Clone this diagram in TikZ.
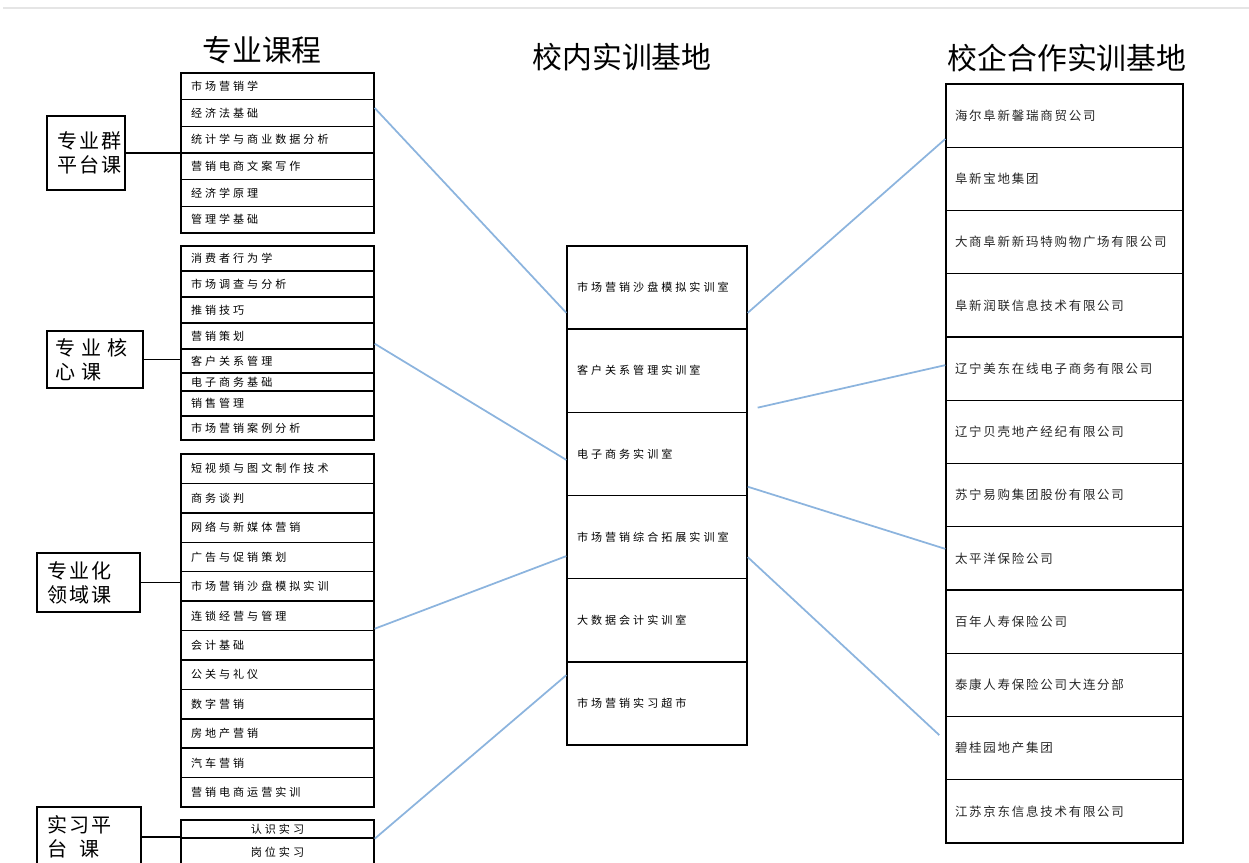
\documentclass[tikz,border=0pt]{standalone}
\usepackage{fontspec}
\setmainfont{Noto Sans CJK SC}
\newfontfamily\rowfont[LetterSpace=27]{Noto Sans CJK SC}
\newfontfamily\firmfont[LetterSpace=14]{Noto Sans CJK SC}
\newfontfamily\grpfont[LetterSpace=10]{Noto Sans CJK SC}
\definecolor{linkblue}{RGB}{140,180,222}

\tikzset{
  course/.style = {draw, line width=0.8pt, inner xsep=0.2cm, inner ysep=0pt, text width=3.46cm, align=left, font=\rowfont\fontsize{6.3}{7}\selectfont},
  practice/.style = {course, align=center},
  lab/.style = {draw, line width=0.8pt, inner xsep=0.2cm, inner ysep=0pt, text width=3.2cm, minimum height=1.663cm, align=left, font=\rowfont\fontsize{6.3}{7}\selectfont},
  firm/.style = {draw, line width=0.8pt, inner xsep=0.18cm, inner ysep=0pt, text width=4.38cm, minimum height=1.265cm, align=left, text=black!85, font=\firmfont\fontsize{7.1}{8}\selectfont},
  grp/.style = {draw, line width=0.8pt, inner xsep=0.2cm, align=left, font=\grpfont\fontsize{11.4}{13.7}\selectfont},
  title/.style = {font=\fontsize{17}{20}\selectfont},
  link/.style = {linkblue, line width=1pt}
}

\begin{document}
\begin{tikzpicture}[x=0.02cm, y=-0.02cm]
    \useasboundingbox (0,0) rectangle (1249,863);
    \clip (0,0) rectangle (1249,863);
    \draw [black!10, line width=1.5pt] (3,8) -- (1249,8);

    \node (tc) [title] at (262,50) {专业课程};
    \node (tl) [title] at (622,57) {校内实训基地};
    \node (tf) [title] at (1067,58) {校企合作实训基地};

    \foreach \t [count=\i] in {市场营销学, 经济法基础, 统计学与商业数据分析, 营销电商文案写作, 经济学原理, 管理学基础}
        \node (p\i) [course, minimum height=0.533cm] at (277.5, {73+26.67*(\i-0.5)}) {\t};
    \foreach \a/\b/\t [count=\i] in {246/271/消费者行为学, 271/297/市场调查与分析, 297/323/推销技巧, 323/349/营销策划, 349/373/客户关系管理, 373/391/电子商务基础, 391/416/销售管理, 416/440/市场营销案例分析}
        \node (c\i) [course, minimum height={(\b-\a)*0.02cm}] at (277.5, {(\a+\b)/2}) {\t};
    \foreach \t [count=\i] in {短视频与图文制作技术, 商务谈判, 网络与新媒体营销, 广告与促销策划, 市场营销沙盘模拟实训, 连锁经营与管理, 会计基础, 公关与礼仪, 数字营销, 房地产营销, 汽车营销, 营销电商运营实训}
        \node (s\i) [course, minimum height=0.588cm] at (277.5, {454+29.42*(\i-0.5)}) {\t};
    \node (i1) [practice, minimum height=0.36cm] at (277.5,829) {认识实习};
    \node (i2) [practice, minimum height=0.56cm] at (277.5,852) {岗位实习};

    \node (gp) [grp, text width=1.16cm, minimum height=1.48cm] at (86,153) {专业群\\平台课};
    \node (gc) [grp, inner xsep=0.16cm, text width=1.6cm, minimum height=1.14cm] at (95,359.5) {专\hspace{0.3em}业\hspace{0.3em}核\\心\hspace{0.3em}课};
    \node (gs) [grp, text width=1.66cm, minimum height=1.18cm] at (88.5,582.5) {专业化\\领域课};
    \node (gi) [grp, text width=1.68cm, minimum height=1.2cm] at (89,837) {实习平\\台\hspace{0.6em}课};

    \draw [line width=0.8pt] (gp.east) -- (gp.east -| p1.west);
    \draw [line width=0.8pt] (gc.east) -- (gc.east -| c1.west);
    \draw [line width=0.8pt] (gs.east) -- (gs.east -| s1.west);
    \draw [line width=0.8pt] (gi.east) -- (gi.east -| i1.west);

    \foreach \t [count=\i] in {市场营销沙盘模拟实训室, 客户关系管理实训室, 电子商务实训室, 市场营销综合拓展实训室, 大数据会计实训室, 市场营销实习超市}
        \node (m\i) [lab] at (657, {246+83.17*(\i-0.5)}) {\t};

    \foreach \t [count=\i] in {海尔阜新馨瑞商贸公司, 阜新宝地集团, 大商阜新新玛特购物广场有限公司, 阜新润联信息技术有限公司, 辽宁美东在线电子商务有限公司, 辽宁贝壳地产经纪有限公司, 苏宁易购集团股份有限公司, 太平洋保险公司, 百年人寿保险公司, 泰康人寿保险公司大连分部, 碧桂园地产集团, 江苏京东信息技术有限公司}
        \node (f\i) [firm] at (1064.5, {84+63.25*(\i-0.5)}) {\t};

    \draw [link] ([yshift=0.1cm]p2.east) -- ([yshift=0.34cm]m1.south west);
    \draw [link] ([yshift=0.12cm]c4.south east) -- ([yshift=-0.12cm]m3.west);
    \draw [link] ([yshift=0.05cm]s6.south east) -- ([yshift=-0.38cm]m4.west);
    \draw [link] (i1.south east) -- ([yshift=-0.28cm]m6.north west);
    \draw [link] ([yshift=0.34cm]m1.south east) -- ([yshift=0.18cm]f1.south west);
    \draw [link] ([xshift=0.2cm, yshift=0.08cm]m3.north east) -- ([yshift=0.07cm]f5.west);
    \draw [link] ([yshift=0.19cm]m3.south east) -- ([yshift=0.19cm]f8.west);
    \draw [link] ([yshift=-0.4cm]m4.east) -- ([xshift=-0.12cm, yshift=0.26cm]f11.west);

\end{tikzpicture}
\end{document}
